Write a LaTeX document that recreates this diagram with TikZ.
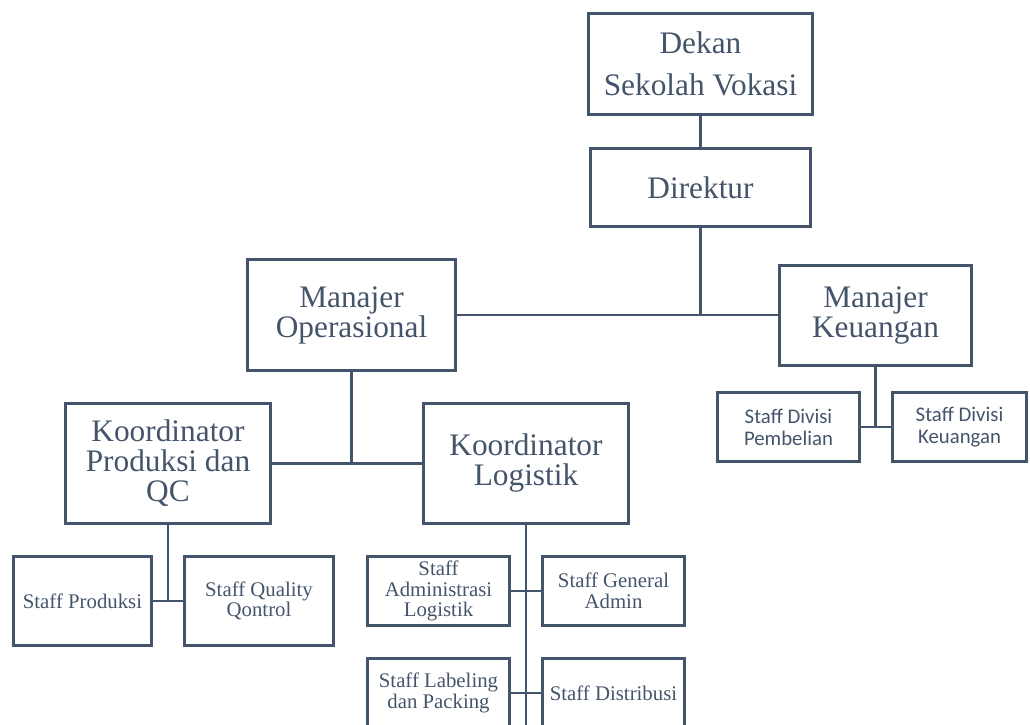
\documentclass[tikz,border=0pt]{standalone}
\usepackage{fontspec}
\setmainfont{Liberation Serif}
\newfontfamily\calibrifont{Carlito}
\usepackage{xcolor}
\definecolor{Slate}{RGB}{68,84,106}
\usepackage{tikz}

\begin{document}
\begin{tikzpicture}[x=0.75pt, y=-0.75pt,
  boss/.style={rectangle, draw=Slate, text=Slate, line width=2.2pt,
    inner sep=0pt, align=center, font=\fontsize{23.5}{22.5}\selectfont},
  %
  staff/.style={rectangle, draw=Slate, text=Slate, line width=2.2pt,
    inner sep=0pt, align=center, font=\fontsize{15.6}{15.5}\selectfont,
    minimum width=107pt, minimum height=52pt},
  %
  divisi/.style={staff, font=\calibrifont\fontsize{15.6}{16.5}\selectfont},
  %
  link/.style={draw=Slate, line width=2.2pt}
  ]

  \clip (0,0) rectangle (1030,724);

  \begin{scope}
    %%%%%%%%%%%%%%%%%%%%%%%%%%%%%%% top
    \node [boss, minimum width=168pt, minimum height=76pt,
      font=\fontsize{23.5}{32}\selectfont] (dekan) at (700.5,64)
      {Dekan\\Sekolah Vokasi};
    \node [boss, minimum width=165pt, minimum height=58.5pt] (direktur)
      at (700.5,187.5) {Direktur};
    %%%%%%%%%%%%%%%%%%%%%%%%%%%%%%% managers
    \node [boss, minimum width=156pt, minimum height=83pt] (manOps)
      at (351.5,315) {Manajer\\Operasional};
    \node [boss, minimum width=144pt, minimum height=75pt] (manKeu)
      at (875.5,315.5) {Manajer\\Keuangan};
    \node [divisi] (stfBeli) at (788.5,427) {Staff Divisi\\Pembelian};
    \node [divisi, minimum width=101pt] (stfKeu) at (959.5,427)
      {Staff Divisi\\Keuangan};
    %%%%%%%%%%%%%%%%%%%%%%%%%%%%%%% koordinators
    \node [boss, minimum width=154pt, minimum height=90pt] (korProd)
      at (168,463.5) {Koordinator\\Produksi dan\\QC};
    \node [boss, minimum width=154pt, minimum height=90pt] (korLog)
      at (526,463.5) {Koordinator\\Logistik};
    %%%%%%%%%%%%%%%%%%%%%%%%%%%%%%% staff
    \node [staff, minimum width=104pt, minimum height=67pt] (stfProd)
      at (82.5,601) {Staff Produksi};
    \node [staff, minimum width=112pt, minimum height=67pt] (stfQC)
      at (259,601) {Staff Quality\\Qontrol};
    \node [staff] (stfAdm) at (438.5,591)
      {Staff\\Administrasi\\Logistik};
    \node [staff] (stfGen) at (613.5,591) {Staff General\\Admin};
    \node [staff] (stfLab) at (438.5,693) {Staff Labeling\\dan Packing};
    \node [staff] (stfDist) at (613.5,693) {Staff Distribusi};
  \end{scope}

  \begin{scope}
    \coordinate (ujung) at (526,730);
    \draw [link] (dekan) -- (direktur);
    \draw [link] (direktur.south) -- (direktur.south |- manOps.east);
    \draw [link] (manOps) -- (manKeu.west |- manOps.east);
    \draw [link] (manKeu.south) -- (manKeu.south |- stfBeli.east);
    \draw [link] (stfBeli) -- (stfKeu);
    \draw [link] (manOps.south) -- (manOps.south |- korProd.east);
    \draw [link] (korProd) -- (korLog);
    \draw [link] (korProd.south) -- (korProd.south |- stfProd.east);
    \draw [link] (stfProd) -- (stfQC);
    \draw [link] (korLog.south) -- (ujung);
    \draw [link] (stfAdm) -- (stfGen);
    \draw [link] (stfLab) -- (stfDist);
  \end{scope}

\end{tikzpicture}
\end{document}
